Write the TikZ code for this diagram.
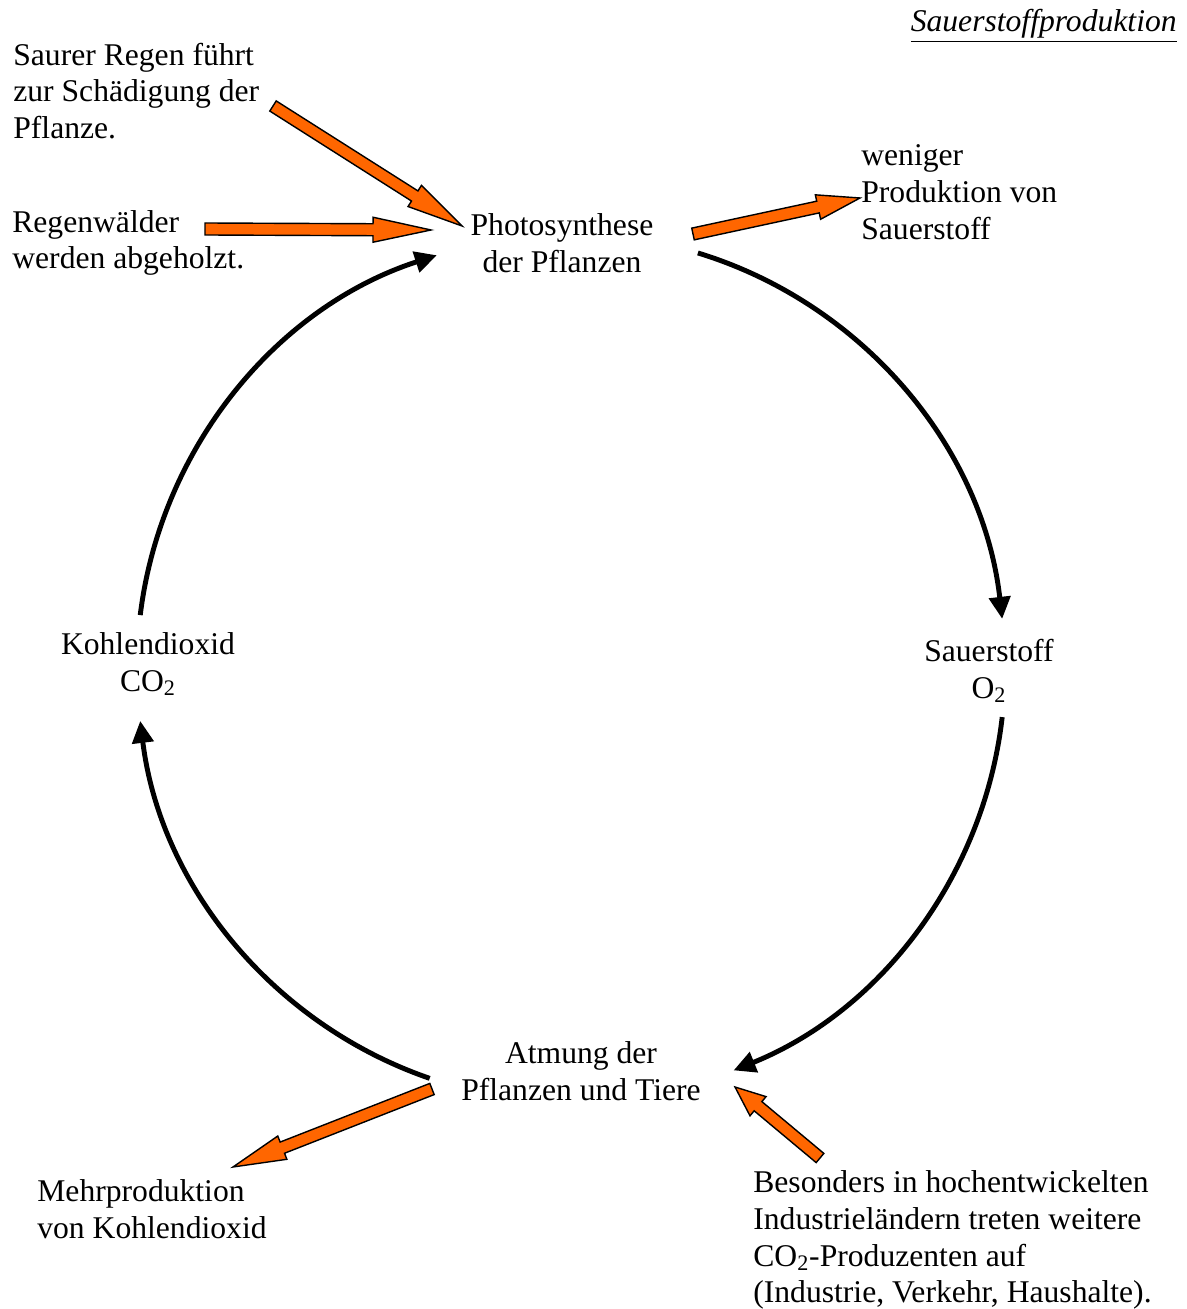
\documentclass[tikz,border=0pt]{standalone}
\usepackage{fontspec}
\setmainfont{Liberation Serif}
\usetikzlibrary{arrows.meta,calc}
\definecolor{arrowfill}{HTML}{FF6600}
\tikzset{
  cycarrow/.style={line width=2.8pt,-{Triangle[length=0.44cm,width=0.42cm]}},
  blockarrow/.style={draw=black,line width=0.8pt,fill=arrowfill,line join=miter},
  label text/.style={inner sep=0pt,font=\fontsize{18}{21}\selectfont}
}
\newcommand\blockarrow[3][1.1cm]{%
  \coordinate (ba) at ($(#3)!#1!(#2)$);
  \path[blockarrow] ($(#2)!0.12cm!90:(#3)$) -- ($(ba)!0.12cm!90:(#3)$)
    -- ($(ba)!0.25cm!90:(#3)$) -- (#3) -- ($(ba)!0.25cm!-90:(#3)$)
    -- ($(ba)!0.12cm!-90:(#3)$) -- ($(#2)!0.12cm!-90:(#3)$) -- cycle;}

\begin{document}
\begin{tikzpicture}[x=0.02cm,y=0.02cm]
    \useasboundingbox (0,0) rectangle (1187,1309);
    \coordinate (c) at (571,641);

    \node[label text,anchor=east] (title) at (1177,1283) {\underline{\textit{Sauerstoffproduktion}}};
    \node[label text,align=center] (photo) at (562,1066) {Photosynthese\\der Pflanzen};
    \node[label text,align=center] (sauer) at (989,638) {Sauerstoff\\O\textsubscript{2}};
    \node[label text,align=center] (kohle) at (148,645) {Kohlendioxid\\CO\textsubscript{2}};
    \node[label text,align=center] (atmung) at (581,238) {Atmung der\\Pflanzen und Tiere};
    \node[label text,align=left,anchor=west] (saurer) at (13,1218) {Saurer Regen führt\\zur Schädigung der\\Pflanze.};
    \node[label text,align=left,anchor=west] (regen) at (12,1066) {Regenwälder\\werden abgeholzt.};
    \node[label text,align=left,anchor=west] (weniger) at (861,1117) {weniger\\Produktion von\\Sauerstoff};
    \node[label text,align=left,anchor=west] (mehr) at (37,100) {Mehrproduktion\\von Kohlendioxid};
    \node[label text,align=left,anchor=west] (besonders) at (753,69) {Besonders in hochentwickelten\\Industrieländern treten weitere\\CO\textsubscript{2}-Produzenten auf\\(Industrie, Verkehr, Haushalte).};

    \draw[cycarrow] ([shift={(173:434)}]c) arc[start angle=173,end angle=108,radius=434];
    \draw[cycarrow] ([shift={(73:434)}]c) arc[start angle=73,end angle=6.5,radius=434];
    \draw[cycarrow] ([shift={(-6.5:434)}]c) arc[start angle=-6.5,end angle=-68,radius=434];
    \draw[cycarrow] ([shift={(-109:434)}]c) arc[start angle=-109,end angle=-173,radius=434];

    \coordinate (saurer-s) at (273,1203);
    \coordinate (saurer-e) at (462,1083);
    \coordinate (regen-s) at (205,1080);
    \coordinate (regen-e) at (431,1079);
    \coordinate (weniger-s) at (693,1075);
    \coordinate (weniger-e) at (860,1111);
    \coordinate (mehr-s) at (432,220);
    \coordinate (mehr-e) at (233,142);
    \coordinate (besonders-s) at (820,151);
    \coordinate (besonders-e) at (735,222);

    \blockarrow[1.12cm]{saurer-s}{saurer-e}
    \blockarrow[1.16cm]{regen-s}{regen-e}
    \blockarrow[0.86cm]{weniger-s}{weniger-e}
    \blockarrow[1.06cm]{mehr-s}{mehr-e}
    \blockarrow[0.6cm]{besonders-s}{besonders-e}
\end{tikzpicture}
\end{document}
